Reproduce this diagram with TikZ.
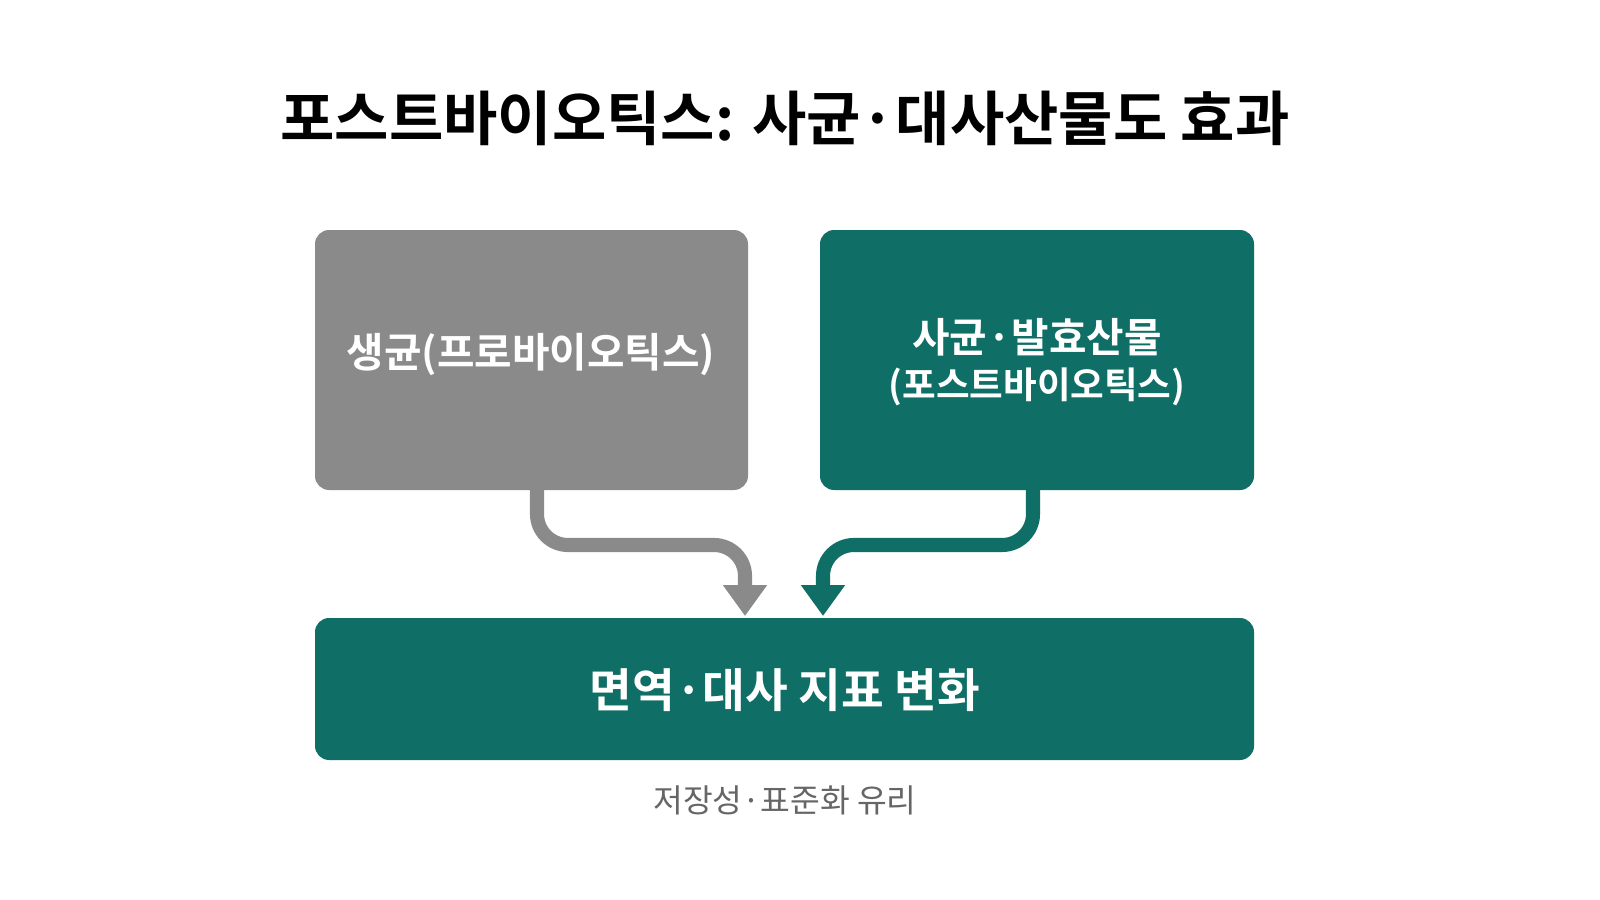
\documentclass[tikz,border=0pt]{standalone}
\usepackage{fontspec}
\setmainfont{Noto Sans CJK KR}
\newfontfamily\krb{Noto Sans CJK KR Bold}
\usetikzlibrary{arrows.meta}
\definecolor{teal1}{HTML}{0F6E66}
\definecolor{gray1}{HTML}{8A8A8A}
\definecolor{cap}{HTML}{666666}
\begin{document}
\begin{tikzpicture}[x=0.025cm,y=-0.025cm,
 box/.style={draw=none,rounded corners=10pt,inner sep=0pt,text=white,align=center,font=\krb\fontsize{29}{35}\selectfont},
 arr/.style={line width=10pt,rounded corners=22pt,-{Triangle[length=22pt,width=30pt]}}]
\useasboundingbox[fill=white] (0,0) rectangle (1600,900);
\node[font=\krb\fontsize{42}{50}\selectfont] (t) at (785,118) {포스트바이오틱스: 사균·대사산물도 효과};
\fill[gray1,rounded corners=10pt] (315,230) rectangle (748,490);
\node[box] (l) at (531,355) {생균(프로바이오틱스)};
\fill[teal1,rounded corners=10pt] (820,230) rectangle (1254,490);
\node[box] (r) at (1037,362) {사균·발효산물\\[-2pt]{\fontsize{26}{31}\selectfont(포스트바이오틱스)}};
\fill[teal1,rounded corners=10pt] (315,618) rectangle (1254,760);
\node[box,font=\krb\fontsize{33}{38}\selectfont] (b) at (785,690) {면역·대사 지표 변화};
\node[text=cap,font=\fontsize{23}{27}\selectfont] (c) at (785,800) {저장성·표준화 유리};
\coordinate (ls) at (537,488); \coordinate (le) at (745,616);
\coordinate (rs) at (1033,488); \coordinate (re) at (823,616);
\draw[arr,gray1] (ls) -- (537,545) -- (745,545) -- (le);
\draw[arr,teal1] (rs) -- (1033,545) -- (823,545) -- (re);
\end{tikzpicture}
\end{document}
